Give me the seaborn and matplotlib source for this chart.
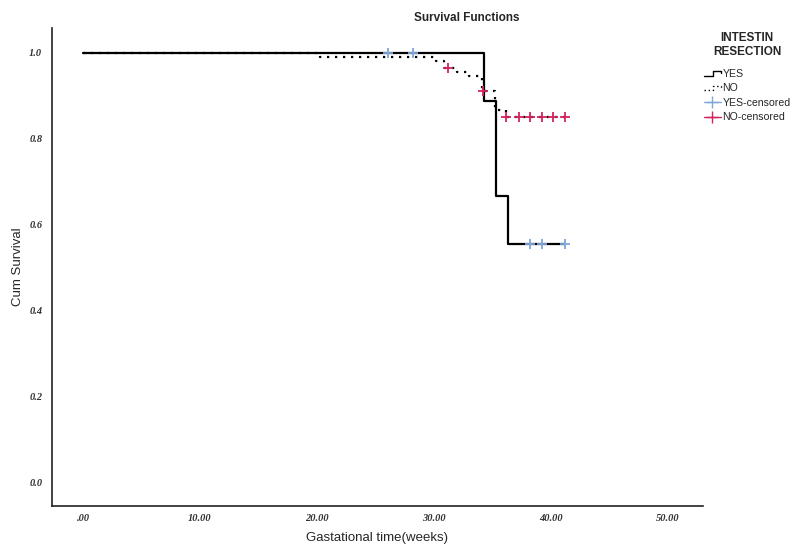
import numpy as np
import pandas as pd
import matplotlib
matplotlib.use("Agg")
import matplotlib.pyplot as plt
from matplotlib.lines import Line2D
from matplotlib.legend_handler import HandlerBase
import seaborn as sns

# Kaplan-Meier step values
yes_time = [0.0, 34.3, 35.3, 36.3, 41.2]
yes_surv = [1.0, 0.889, 0.667, 0.556, 0.556]
no_time = [0.0, 20.3, 30.2, 30.9, 32.0, 33.0, 34.1, 35.2, 36.2, 41.2]
no_surv = [1.0, 0.991, 0.982, 0.965, 0.955, 0.946, 0.912, 0.868, 0.850, 0.850]

yes_cens_time = [26.1, 28.2, 38.2, 39.2, 41.2]
yes_cens_surv = [1.0, 1.0, 0.556, 0.556, 0.556]
no_cens_time = [31.2, 34.2, 36.2, 37.3, 38.2, 39.2, 40.2, 41.2]
no_cens_surv = [0.965, 0.912, 0.850, 0.850, 0.850, 0.850, 0.850, 0.850]

x_ticks = [0, 10, 20, 30, 40, 50]
x_labels = [".00", "10.00", "20.00", "30.00", "40.00", "50.00"]
y_ticks = [0.0, 0.2, 0.4, 0.6, 0.8, 1.0]

BLUE = "#7FA7D8"
RED = "#D2245C"


class StepHandler(HandlerBase):
    def __init__(self, ls, lw):
        super().__init__()
        self.ls = ls
        self.lw = lw

    def create_artists(self, legend, orig_handle, xdescent, ydescent, width, height, fontsize, trans):
        x0, x1 = -xdescent, -xdescent + width
        xm = x0 + width * 0.55
        lo, hi = -ydescent + height * 0.15, -ydescent + height * 0.75
        ln = Line2D([x0, xm, xm, x1, x1], [lo, lo, hi, hi, hi - height * 0.25],
                    color="black", lw=self.lw, linestyle=self.ls, transform=trans)
        return [ln]


sns.set_style("white")
fig = plt.figure(figsize=(7.92, 5.44), dpi=100)
ax = fig.add_axes([52 / 792, 1 - 506 / 544, (703 - 52) / 792, (506 - 28) / 544])

df_yes = pd.DataFrame({"t": yes_time, "s": yes_surv})
df_no = pd.DataFrame({"t": no_time, "s": no_surv})
sns.lineplot(data=df_no, x="t", y="s", ax=ax, color="black", lw=1.6,
             linestyle=(0, (1.0, 2.6)), drawstyle="steps-post", estimator=None, sort=False)
sns.lineplot(data=df_yes, x="t", y="s", ax=ax, color="black", lw=1.6,
             drawstyle="steps-post", estimator=None, sort=False)

df_yc = pd.DataFrame({"t": yes_cens_time, "s": yes_cens_surv})
df_nc = pd.DataFrame({"t": no_cens_time, "s": no_cens_surv})
sns.scatterplot(data=df_yc, x="t", y="s", ax=ax, marker="+", s=45, color=BLUE, linewidth=1.3, zorder=5)
sns.scatterplot(data=df_nc, x="t", y="s", ax=ax, marker="+", s=45, color=RED, linewidth=1.3, zorder=5)

ax.set_xlim(-2.65, 53.0)
ax.set_ylim(-0.0535, 1.058)
ax.set_xticks(x_ticks)
ax.set_xticklabels(x_labels)
ax.set_yticks(y_ticks)
ax.set_yticklabels([f"{v:.1f}" for v in y_ticks])
for lab in ax.get_xticklabels() + ax.get_yticklabels():
    lab.set_fontfamily("Liberation Serif")
    lab.set_fontstyle("italic")
    lab.set_fontweight("bold")
    lab.set_fontsize(7.5)
    lab.set_color("#333333")
ax.tick_params(axis="both", length=0)
ax.tick_params(axis="x", pad=6)
ax.tick_params(axis="y", pad=7)

for side in ["top", "right"]:
    ax.spines[side].set_visible(False)
for side in ["left", "bottom"]:
    ax.spines[side].set_color("#222222")
    ax.spines[side].set_linewidth(1.2)

ax.set_xlabel("Gastational time(weeks)", fontsize=9.5, family="Liberation Sans", labelpad=6)
ax.set_ylabel("Cum Survival", fontsize=9.5, family="Liberation Sans", labelpad=4)
fig.text(467 / 792, 1 - 18 / 544, "Survival Functions", ha="center", va="center",
         fontsize=8.5, fontweight="bold", family="Liberation Sans")

h_yes = Line2D([], [], color="black")
h_no = Line2D([], [], color="black", linestyle=":")
h_yc = Line2D([], [], color=BLUE, marker="+", markersize=8, lw=1.0)
h_nc = Line2D([], [], color=RED, marker="+", markersize=8, lw=1.0)
leg = fig.legend([h_yes, h_no, h_yc, h_nc], ["YES", "NO", "YES-censored", "NO-censored"],
                 loc="upper left", bbox_to_anchor=(704 / 792, 1 - 32 / 544),
                 title="INTESTIN\nRESECTION", frameon=False, alignment="center",
                 prop={"family": "Liberation Sans", "size": 7.6},
                 handlelength=1.6, handletextpad=0.15, labelspacing=0.42,
                 borderaxespad=0, borderpad=0,
                 handler_map={h_yes: StepHandler("-", 1.0), h_no: StepHandler((0, (1, 2)), 1.0)})
leg.get_title().set_fontweight("bold")
leg.get_title().set_fontsize(8.5)
leg.get_title().set_family("Liberation Sans")
leg.get_title().set_multialignment("center")
leg._legend_box.sep = 8

fig.savefig("out.png", dpi=100)
